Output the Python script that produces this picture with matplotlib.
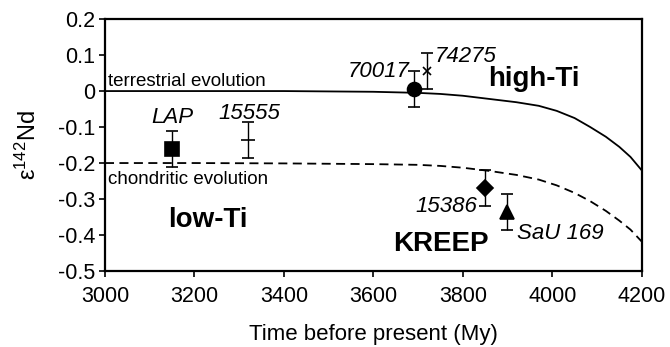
import matplotlib
matplotlib.use("Agg")
import matplotlib.pyplot as plt

plt.rcParams["font.family"] = ["Liberation Sans", "DejaVu Sans"]
plt.rcParams["mathtext.fontset"] = "custom"
plt.rcParams["mathtext.rm"] = "Liberation Sans"
plt.rcParams["mathtext.it"] = "Liberation Sans:italic"

# evolution curves
curve_time = [3000, 3200, 3400, 3500, 3600, 3700, 3750, 3800, 3860, 3920,
              3970, 4010, 4050, 4085, 4120, 4150, 4175, 4200]
terrestrial = [0.0, 0.0, 0.0, -0.001, -0.002, -0.005, -0.008, -0.013, -0.022,
               -0.031, -0.041, -0.055, -0.075, -0.100, -0.127, -0.155, -0.183,
               -0.220]
chondritic = [-0.200, -0.200, -0.201, -0.202, -0.203, -0.205, -0.208, -0.213,
              -0.222, -0.233, -0.246, -0.262, -0.283, -0.306, -0.333, -0.360,
              -0.385, -0.418]

# samples
samples = ["LAP", "15555", "70017", "74275", "15386", "SaU 169"]
sample_age = [3150, 3320, 3690, 3720, 3850, 3900]
sample_eps = [-0.160, -0.135, 0.005, 0.055, -0.268, -0.335]
sample_err = [0.050, 0.050, 0.050, 0.050, 0.050, 0.050]
sample_marker = ["s", "_", "o", "x", "D", "^"]
sample_msize = [10, 10, 10, 6, 8, 10]

xticks = [3000, 3200, 3400, 3600, 3800, 4000, 4200]
yticks = [0.2, 0.1, 0.0, -0.1, -0.2, -0.3, -0.4, -0.5]
ytick_labels = ["0.2", "0.1", "0", "-0.1", "-0.2", "-0.3", "-0.4", "-0.5"]

fig = plt.figure(figsize=(6.70, 3.47), dpi=100)
ax = fig.add_axes([0.1567, 0.219, 0.801, 0.726])

ax.plot(curve_time, terrestrial, color="black", lw=1.3)
ax.plot(curve_time, chondritic, color="black", lw=1.3, linestyle=(0, (5, 3)))

for i in range(len(samples)):
    ax.errorbar(sample_age[i], sample_eps[i], yerr=sample_err[i],
                fmt=sample_marker[i], color="black", ms=sample_msize[i],
                mew=1.2, elinewidth=1.0, capsize=4.3, capthick=1.0, zorder=3)

# sample labels
ax.text(3150, -0.090, "LAP", style="italic", fontsize=16, ha="center", va="baseline")
ax.text(3322, -0.077, "15555", style="italic", fontsize=16, ha="center", va="baseline")
ax.text(3680, 0.040, "70017", style="italic", fontsize=16, ha="right", va="baseline")
ax.text(3738, 0.081, "74275", style="italic", fontsize=16, ha="left", va="baseline")
ax.text(3832, -0.337, "15386", style="italic", fontsize=16, ha="right", va="baseline")
ax.text(3921, -0.410, "SaU 169", style="italic", fontsize=16, ha="left", va="baseline")

# group labels
ax.text(3856, 0.015, "high-Ti", fontweight="bold", fontsize=20, ha="left", va="baseline")
ax.text(3142, -0.379, "low-Ti", fontweight="bold", fontsize=20, ha="left", va="baseline")
ax.text(3645, -0.444, "KREEP", fontweight="bold", fontsize=20, ha="left", va="baseline")

ax.text(3007, 0.015, "terrestrial evolution", fontsize=13.5, ha="left", va="baseline")
ax.text(3007, -0.257, "chondritic evolution", fontsize=13.5, ha="left", va="baseline")

ax.set_xlim(3000, 4200)
ax.set_ylim(-0.5, 0.2)
ax.set_xticks(xticks)
ax.set_xticklabels([str(t) for t in xticks])
ax.set_yticks(yticks)
ax.set_yticklabels(ytick_labels)
ax.tick_params(axis="both", direction="out", length=4, width=1.2,
               labelsize=15.5)
ax.tick_params(axis="x", pad=7)
ax.tick_params(axis="y", pad=3)
for side in ["top", "right", "left", "bottom"]:
    ax.spines[side].set_linewidth(1.6)

ax.set_xlabel("Time before present (My)", fontsize=16, labelpad=12)
ax.set_ylabel(r"$\mathrm{ε^{142}Nd}$", fontsize=17, labelpad=12)

fig.savefig("out.png", dpi=100)
